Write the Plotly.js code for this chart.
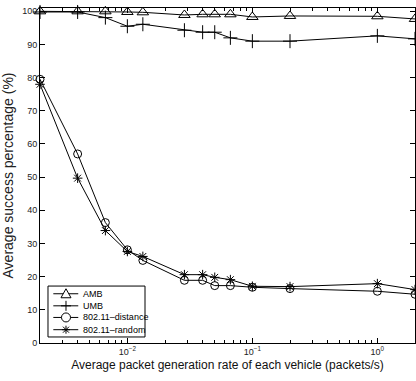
<!DOCTYPE html>
<html>
<head>
<meta charset="utf-8">
<script src="https://cdn.plot.ly/plotly-3.0.1.min.js"></script>
<style>html,body{margin:0;padding:0;background:#fff;}#chart{width:416px;height:381px;}</style>
</head>
<body>
<div id="chart"></div>
<script>
const rates = [0.002, 0.004, 0.00667, 0.01, 0.0133, 0.0286, 0.04, 0.05, 0.0667, 0.1, 0.2, 1, 2];
const amb = [100, 100, 100, 99.8, 99.7, 98.9, 99.1, 99.1, 99.1, 98.3, 98.6, 98.5, 97.7];
const umb = [99.8, 99.8, 98.1, 95.5, 96.1, 94.3, 93.7, 93.7, 92.0, 91.0, 91.0, 92.6, 91.7];
const dist = [79.5, 57.0, 36.3, 28.1, 24.9, 18.9, 18.9, 17.3, 17.3, 16.8, 16.4, 15.6, 14.7];
const rand = [78.0, 49.7, 33.9, 27.6, 26.1, 20.6, 20.6, 19.8, 19.1, 17.1, 17.0, 17.9, 16.1];
const seriesNames = ['AMB', 'UMB', '802.11\u2013distance', '802.11\u2013random'];
const xTickVals = [0.01, 0.1, 1];
const xTickText = ['10<sup>\u22122</sup>', '10<sup>\u22121</sup>', '10<sup>0</sup>'];
const xMinorVals = [0.002,0.003,0.004,0.005,0.006,0.007,0.008,0.009,0.02,0.03,0.04,0.05,0.06,0.07,0.08,0.09,0.2,0.3,0.4,0.5,0.6,0.7,0.8,0.9,2];
const yTickVals = [0,10,20,30,40,50,60,70,80,90,100];

const series = [amb, umb, dist, rand];
const symbols = ['triangle-up-open', 'cross-thin-open', 'circle-open', 'asterisk-open'];
const sizes = [10, 10, 8, 8];
const traces = series.map((ys, i) => ({
  x: rates, y: ys, name: seriesNames[i], type: 'scatter', mode: 'lines+markers',
  line: {color: '#000', width: 1},
  marker: {symbol: symbols[i], size: sizes[i], color: '#000', line: {color: '#000', width: 1}},
  cliponaxis: false, showlegend: false
}));

// custom compact legend (MATLAB style)
const legBox = {x0: 0.0213, x1: 0.28, y0: 0.018, y1: 0.170};
const legRowY = [0.147, 0.111, 0.0763, 0.0397];
const legLineX = [0.0355, 0.102];
const legMarkX = 0.0693;
const legTextX = 0.109;
const markerPaths = [
  'M -5,-4 L 5,-4 L 0,5 Z',
  'M -5,0 L 5,0 M 0,-5 L 0,5',
  null,
  'M -4,0 L 4,0 M 0,-4 L 0,4 M -3,-3 L 3,3 M -3,3 L 3,-3'
];
const shapes = [{type: 'rect', xref: 'paper', yref: 'paper', x0: legBox.x0, x1: legBox.x1, y0: legBox.y0, y1: legBox.y1,
  line: {color: '#000', width: 1}, fillcolor: '#fff', layer: 'above'}];
const annotations = [];
legRowY.forEach((yy, i) => {
  shapes.push({type: 'line', xref: 'paper', yref: 'paper', x0: legLineX[0], x1: legLineX[1], y0: yy, y1: yy,
    line: {color: '#000', width: 1}, layer: 'above'});
  if (markerPaths[i]) {
    shapes.push({type: 'path', xref: 'paper', yref: 'paper', xsizemode: 'pixel', ysizemode: 'pixel',
      xanchor: legMarkX, yanchor: yy, path: markerPaths[i], line: {color: '#000', width: 1},
      fillcolor: i === 0 ? '#fff' : 'rgba(0,0,0,0)', layer: 'above'});
  } else {
    shapes.push({type: 'circle', xref: 'paper', yref: 'paper', xsizemode: 'pixel', ysizemode: 'pixel',
      xanchor: legMarkX, yanchor: yy, x0: -4.5, x1: 4.5, y0: -4.5, y1: 4.5, line: {color: '#000', width: 1},
      fillcolor: '#fff', layer: 'above'});
  }
  annotations.push({xref: 'paper', yref: 'paper', x: legTextX, y: yy, xanchor: 'left', yanchor: 'middle',
    text: seriesNames[i], showarrow: false, font: {size: 9, color: '#000'}});
});

const layout = {
  width: 416, height: 381,
  margin: {l: 40, r: 1, t: 8, b: 38},
  paper_bgcolor: '#fff', plot_bgcolor: '#fff',
  font: {family: 'Liberation Sans, Arial, sans-serif', color: '#222', size: 9},
  showlegend: false,
  shapes: shapes, annotations: annotations,
  xaxis: {
    type: 'log', range: [Math.log10(0.002), Math.log10(2)],
    tickvals: xTickVals, ticktext: xTickText,
    ticks: 'inside', ticklen: 5, tickcolor: '#000', mirror: 'ticks',
    showline: true, linecolor: '#000', linewidth: 1, showgrid: false, zeroline: false,
    minor: {tickvals: xMinorVals, ticks: 'inside', ticklen: 3, tickcolor: '#000', showgrid: false},
    tickfont: {size: 9, color: '#222'},
    title: {text: 'Average packet generation rate of each vehicle (packets/s)', font: {size: 12, color: '#111'}, standoff: 4}
  },
  yaxis: {
    range: [0, 101], tickvals: yTickVals,
    ticks: 'inside', ticklen: 5, tickcolor: '#000', mirror: 'ticks',
    showline: true, linecolor: '#000', linewidth: 1, showgrid: false, zeroline: false,
    tickfont: {size: 9, color: '#222'},
    title: {text: 'Average success percentage (%)', font: {size: 14, color: '#222'}, standoff: 7}
  }
};
Plotly.newPlot('chart', traces, layout, {staticPlot: true, displayModeBar: false});
</script>
</body>
</html>
